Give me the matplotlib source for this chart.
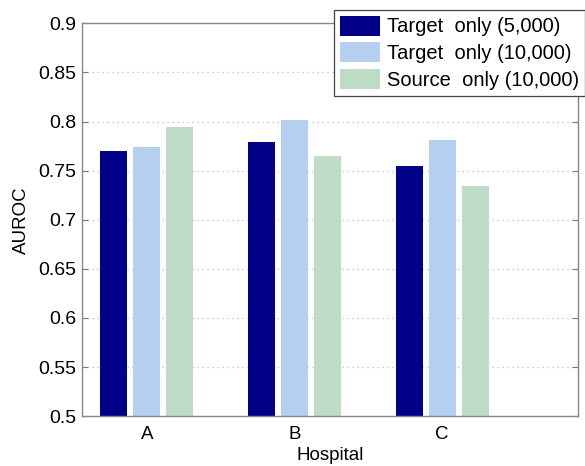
import numpy as np
import matplotlib
matplotlib.use("Agg")
import matplotlib.pyplot as plt

plt.rcParams["font.family"] = ["Liberation Sans", "DejaVu Sans"]

hospitals = ["A", "B", "C"]
series_names = ["Target  only (5,000)", "Target  only (10,000)", "Source  only (10,000)"]
target_5k = [0.770, 0.779, 0.755]
target_10k = [0.774, 0.802, 0.781]
source_10k = [0.794, 0.765, 0.734]
colors = ["#020288", "#b4cff0", "#bfdcc6"]

fig = plt.figure(figsize=(5.85, 4.66), dpi=100)
ax = fig.add_axes([0.140, 0.107, 0.848, 0.843])

x = np.arange(1, len(hospitals) + 1)
width = 0.183
step = 0.224
for i, (vals, name, c) in enumerate(zip([target_5k, target_10k, source_10k], series_names, colors)):
    ax.bar(x + (i - 1) * step, vals, width, color=c, label=name, zorder=2)

ax.set_ylim(0.5, 0.9)
ax.set_xlim(0.56, 3.92)
yt = np.arange(0.5, 0.901, 0.05)
ax.set_yticks(yt)
ax.set_yticklabels([f"{v:g}" for v in np.round(yt, 2)], fontsize=14)
ax.set_xticks(x)
ax.set_xticklabels(hospitals, fontsize=13.5)
ax.tick_params(direction="in", length=4, color="#777777", right=True, top=False)
ax.tick_params(axis="y", pad=4)
ax.tick_params(axis="x", length=0, pad=7)
ax.yaxis.grid(True, linestyle=(0, (1, 3)), color="#bbbbbb", linewidth=0.9, zorder=0)
for s in ax.spines.values():
    s.set_color("#888888")
    s.set_linewidth(1.0)

ax.set_xlabel("Hospital", fontsize=13.5, labelpad=3)
ax.set_ylabel("AUROC", fontsize=13.5, labelpad=6)

leg = ax.legend(loc="upper right", bbox_to_anchor=(1.015, 1.035), fontsize=14.5,
                frameon=True, fancybox=False, framealpha=1, edgecolor="#444444",
                handlelength=2.0, handleheight=1.15, handletextpad=0.35,
                borderpad=0.3, labelspacing=0.3, borderaxespad=0)
leg.get_frame().set_linewidth(0.9)

fig.savefig("out.png", dpi=100)
